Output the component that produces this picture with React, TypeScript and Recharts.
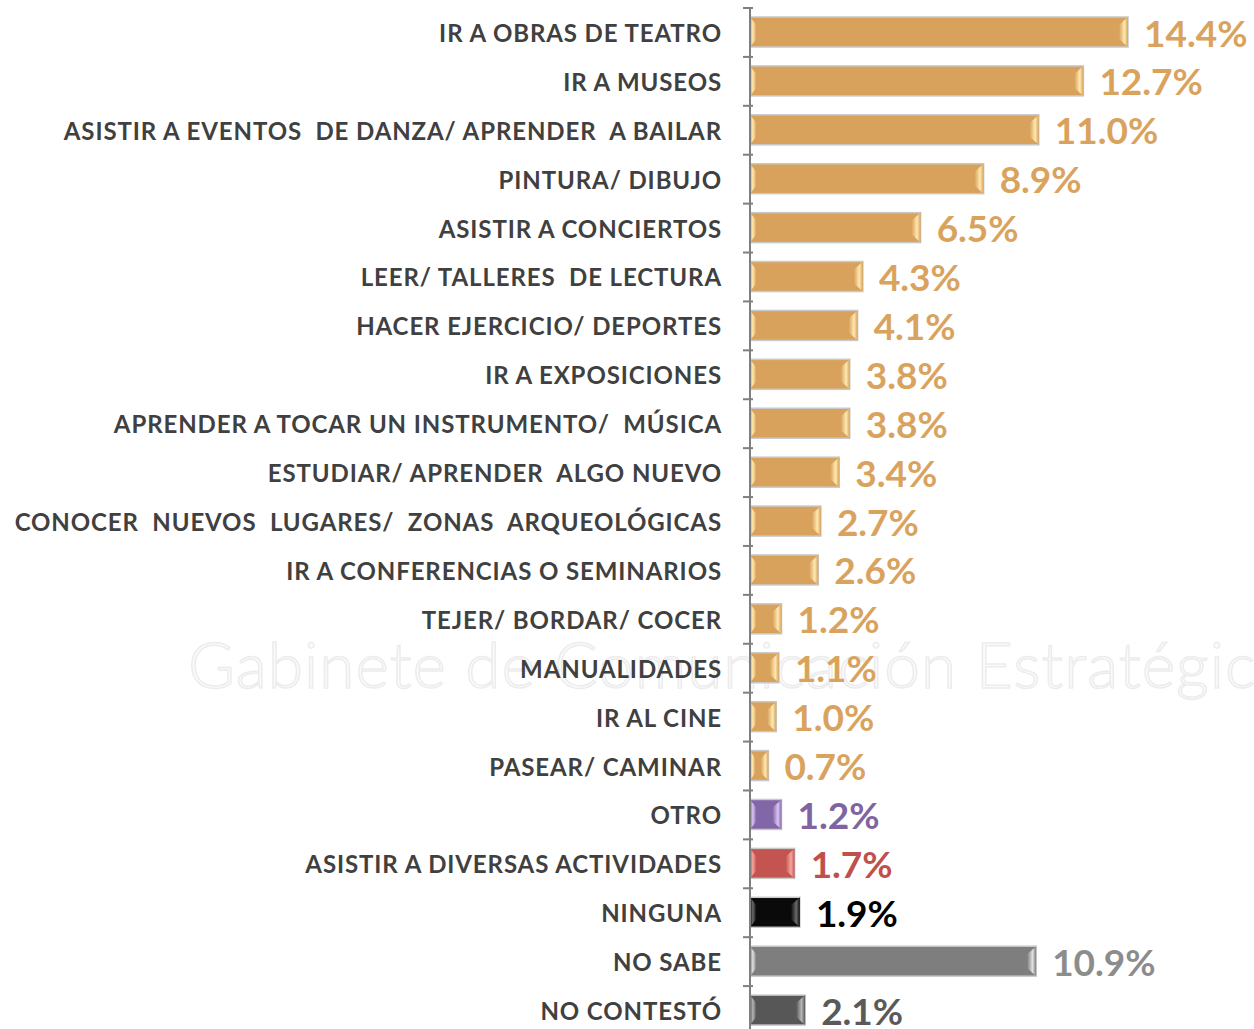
import React from "react";
import { BarChart, Bar, XAxis, YAxis, Cell, LabelList } from "recharts";

const categories = [
  "IR A OBRAS DE TEATRO",
  "IR A MUSEOS",
  "ASISTIR A EVENTOS  DE DANZA/ APRENDER  A BAILAR",
  "PINTURA/ DIBUJO",
  "ASISTIR A CONCIERTOS",
  "LEER/ TALLERES  DE LECTURA",
  "HACER EJERCICIO/ DEPORTES",
  "IR A EXPOSICIONES",
  "APRENDER A TOCAR UN INSTRUMENTO/  MÚSICA",
  "ESTUDIAR/ APRENDER  ALGO NUEVO",
  "CONOCER  NUEVOS  LUGARES/  ZONAS  ARQUEOLÓGICAS",
  "IR A CONFERENCIAS O SEMINARIOS",
  "TEJER/ BORDAR/ COCER",
  "MANUALIDADES",
  "IR AL CINE",
  "PASEAR/ CAMINAR",
  "OTRO",
  "ASISTIR A DIVERSAS ACTIVIDADES",
  "NINGUNA",
  "NO SABE",
  "NO CONTESTÓ",
];

const values = [
  14.4, 12.7, 11.0, 8.9, 6.5, 4.3, 4.1, 3.8, 3.8, 3.4, 2.7, 2.6, 1.2, 1.1, 1.0,
  0.7, 1.2, 1.7, 1.9, 10.9, 2.1,
];

// bar colour group per row: 0 gold, 1 purple, 2 red, 3 black, 4 gray, 5 dark gray
const groups = [0, 0, 0, 0, 0, 0, 0, 0, 0, 0, 0, 0, 0, 0, 0, 0, 1, 2, 3, 4, 5];

const barFill = ["#D8A25C", "#8366A8", "#C4544F", "#0A0A0A", "#7E7E7E", "#575757"];
const barLight = ["#FFE9B0", "#D9C6F2", "#F4A6A2", "#6A6A6A", "#E0E0E0", "#B5B5B5"];
const labelFill = ["#D9A35E", "#8064A2", "#C0504D", "#000000", "#8C8C8C", "#5A5A5A"];

const data = categories.map((name, i) => ({ name, value: values[i], group: groups[i] }));

const FONT = "Lato, 'Open Sans', sans-serif";
const CHART_W = 1254;
const CHART_H = 1040;
const TOP = 8;
const BOTTOM = 5;
const BAND = (CHART_H - TOP - BOTTOM) / categories.length;

function BevelBar(props: any) {
  const { x, y, width, height, payload } = props;
  if (width == null || width <= 0) return null;
  const g = payload.group;
  const base = barFill[g];
  const light = barLight[g];
  const b = Math.min(9, width / 2.4);
  const v = Math.min(8, height / 3);
  const id = `grad-${g}`;
  return (
    <g>
      <defs>
        <linearGradient id={id} x1="0" y1="0" x2="1" y2="0">
          <stop offset="0%" stopColor={base} />
          <stop offset="60%" stopColor={light} />
          <stop offset="100%" stopColor={base} />
        </linearGradient>
        <linearGradient id={id + "l"} x1="0" y1="0" x2="1" y2="0">
          <stop offset="0%" stopColor={base} />
          <stop offset="45%" stopColor={light} />
          <stop offset="100%" stopColor={base} />
        </linearGradient>
      </defs>
      <rect x={x} y={y} width={width} height={height} fill={base} stroke="#C9C9C9" strokeWidth={1.5} />
      <polygon
        points={`${x},${y} ${x + b * 0.7},${y + v} ${x + b * 0.7},${y + height - v} ${x},${y + height}`}
        fill={`url(#${id}l)`}
      />
      <polygon
        points={`${x + width},${y} ${x + width - b},${y + v} ${x + width - b},${y + height - v} ${x + width},${y + height}`}
        fill={`url(#${id})`}
      />
    </g>
  );
}

function CategoryTick(props: any) {
  const { x, y, payload, index } = props;
  const top = y - BAND / 2;
  return (
    <g>
      <line x1={x + 1} x2={x + 11} y1={top} y2={top} stroke="#7F7F7F" strokeWidth={2} />
      {index === categories.length - 1 && (
        <line x1={x + 1} x2={x + 11} y1={top + BAND} y2={top + BAND} stroke="#7F7F7F" strokeWidth={2} />
      )}
      <text
        x={x - 20}
        y={y}
        textAnchor="end"
        dominantBaseline="central"
        fill="#404040"
        fontFamily={FONT}
        fontWeight={700}
        fontSize={24}
        style={{ whiteSpace: "pre", letterSpacing: "0.9px" }}
      >
        {payload.value}
      </text>
    </g>
  );
}

function ValueLabel(props: any) {
  const { x, y, width, height, value, index } = props;
  const g = groups[index];
  return (
    <text
      x={x + width + 16}
      y={y + height / 2}
      dominantBaseline="central"
      fill={labelFill[g]}
      fontFamily={FONT}
      fontWeight={700}
      fontSize={37}
    >
      {value.toFixed(1)}%
    </text>
  );
}

export default function App() {
  return (
    <div style={{ position: "absolute", left: 0, top: 0, width: CHART_W, height: 1029, overflow: "hidden", background: "#fff" }}>
      <svg width={CHART_W} height={1029} style={{ position: "absolute", left: 0, top: 0 }}>
        <text
          x={188}
          y={688}
          fill="#FBFBFB"
          stroke="#ECECEC"
          strokeWidth={1.5}
          fontFamily={FONT}
          fontWeight={300}
          fontSize={64}
          style={{ letterSpacing: "1px" }}
        >
          Gabinete de Comunicación Estratégica
        </text>
      </svg>
      <div style={{ position: "absolute", left: 0, top: 0 }}>
        <BarChart
          width={CHART_W}
          height={CHART_H}
          data={data}
          layout="vertical"
          margin={{ top: TOP, right: 0, bottom: BOTTOM, left: 0 }}
        >
          <XAxis type="number" domain={[0, 19.2]} hide allowDataOverflow />
          <YAxis
            type="category"
            dataKey="name"
            width={750}
            axisLine={{ stroke: "#7F7F7F", strokeWidth: 2 }}
            tickLine={false}
            tick={<CategoryTick />}
            interval={0}
          />
          <Bar dataKey="value" barSize={30} shape={<BevelBar />} isAnimationActive={false}>
            {data.map((d, i) => (
              <Cell key={i} fill={barFill[d.group]} />
            ))}
            <LabelList dataKey="value" content={<ValueLabel />} />
          </Bar>
        </BarChart>
      </div>
    </div>
  );
}
